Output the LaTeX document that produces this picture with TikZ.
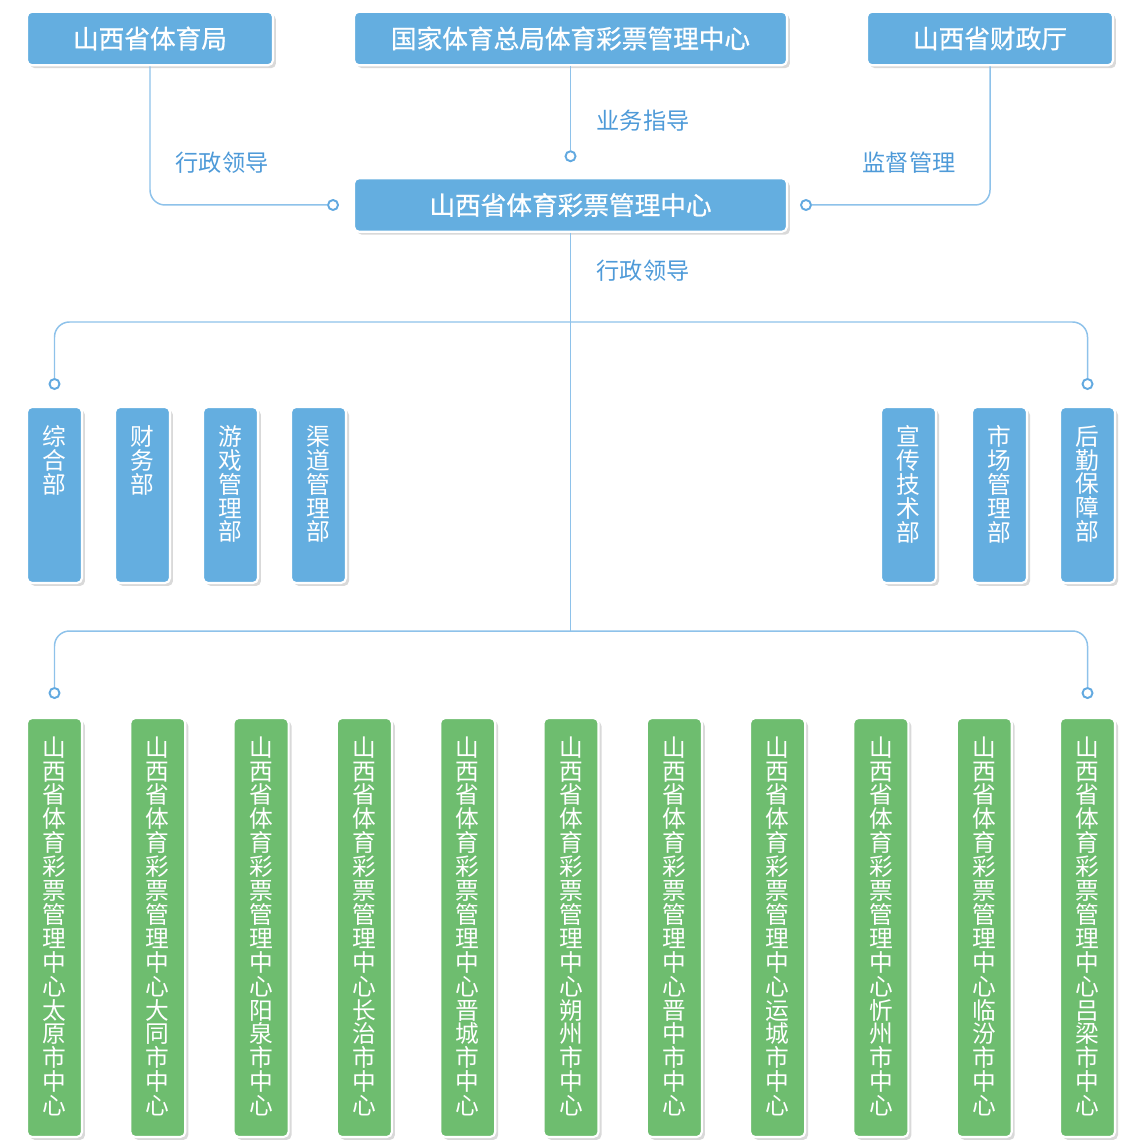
\documentclass[tikz,border=0pt]{standalone}
\usepackage{fontspec}
\setmainfont{Noto Sans CJK SC}
\newfontfamily\headfont[FakeBold=0.8]{Noto Sans CJK SC}
\usetikzlibrary{positioning}
\usetikzlibrary{shadows}
\definecolor{boxblue}{HTML}{64AEE0}
\definecolor{boxgreen}{HTML}{6EBD6F}
\definecolor{linkblue}{HTML}{8EC2EA}
\definecolor{hubblue}{HTML}{62A9E0}
\definecolor{noteblue}{HTML}{4E9AD8}
% stack the characters of #2 one under the other in a box #1 high
\newcommand\vchars[2]{\vbox to #1{\lineskiplimit=-\maxdimen\vskip 10.5pt\vcharsnext#2\relax\vfil}}
\def\vcharsnext#1{\ifx\relax#1\else\hbox to 1em{\hss#1\hss}\expandafter\vcharsnext\fi}
\newcommand\vcity[1]{\vchars{8.38cm}{山西省体育彩票管理中心#1市中心}}
\tikzset {
  % every box of the chart
  unit/.style = {
    draw = white,
    line width = 1.2pt,
    rounded corners = 0.1cm,
    text = white,
    inner sep = 0,
    drop shadow={shadow xshift=0.06cm,shadow yshift=-0.06cm,opacity=0.3}
  },
  % boxes with a line of text
  head/.style = {
    unit,
    fill = boxblue,
    minimum height = 1.07cm,
    font = \headfont\fontsize{14.6pt}{16pt}\selectfont
  },
  % departments
  dept/.style = {
    unit,
    fill = boxblue,
    minimum width = 1.1cm,
    font = \fontsize{13.5pt}{13.6pt}\selectfont
  },
  % city centres
  city/.style = {
    dept,
    fill = boxgreen
  }
}
\tikzset {
  link/.style = {
    draw = linkblue,
    line width = 0.85pt,
    rounded corners = 0.3cm
  },
  % small ring at the end of a link
  hub/.style = {
    circle,
    draw = hubblue,
    fill = white,
    line width = 1.1pt,
    minimum size = 0.2cm,
    inner sep = 0
  },
  note/.style = {
    text = noteblue,
    font = \fontsize{13.2pt}{15pt}\selectfont
  }
}
\begin{document}
\begin{tikzpicture}[x=0.02cm, y=-0.02cm]
    \useasboundingbox (0,0) rectangle (1126,1141);

    \node[head, minimum width = 4.92cm] (sport) at (150,38.5) {山西省体育局};
    \node[head, minimum width = 8.66cm] (nation) at (570.5,38.5) {国家体育总局体育彩票管理中心};
    \node[head, minimum width = 4.92cm] (finance) at (990,38.5) {山西省财政厅};

    \node[head, minimum width = 8.66cm] (center) at (570.5,205) {山西省体育彩票管理中心};

    \node[hub] (hub-sport) [left=0.28cm of center] {};
    \node[hub] (hub-nation) [above=0.3cm of center] {};
    \node[hub] (hub-finance) [right=0.24cm of center] {};

    \node[note] (note-sport) at (222,163) {行政领导};
    \node[note] (note-nation) at (643,121) {业务指导};
    \node[note] (note-finance) at (909,163) {监督管理};
    \node[note] (note-center) at (643,271) {行政领导};

    % departments
    \node[dept] (dept-1) at (54.5,495) {\vchars{3.52cm}{综合部}};
    \node[dept] (dept-2) at (142.5,495) {\vchars{3.52cm}{财务部}};
    \node[dept] (dept-3) at (230.5,495) {\vchars{3.52cm}{游戏管理部}};
    \node[dept] (dept-4) at (318.5,495) {\vchars{3.52cm}{渠道管理部}};
    \node[dept] (dept-5) at (908.5,495) {\vchars{3.52cm}{宣传技术部}};
    \node[dept] (dept-6) at (999.5,495) {\vchars{3.52cm}{市场管理部}};
    \node[dept] (dept-7) at (1087.5,495) {\vchars{3.52cm}{后勤保障部}};

    % city centres
    \foreach \name [count=\i] in {太原,大同,阳泉,长治,晋城,朔州,晋中,运城,忻州,临汾,吕梁}
      \node[city] (city-\i) at ({54.5+103.3*(\i-1)},927.5) {\expandafter\vcity\expandafter{\name}};

    \node[hub] (hub-dept-left) [above=0.32cm of dept-1] {};
    \node[hub] (hub-dept-right) [above=0.32cm of dept-7] {};
    \node[hub] (hub-city-left) [above=0.36cm of city-1] {};
    \node[hub] (hub-city-right) [above=0.36cm of city-11] {};

    \coordinate (split-dept) at (570.5,322);
    \coordinate (split-city) at (570.5,631);

    \draw [link] (sport) |- (hub-sport);
    \draw [link] (nation) -- (hub-nation);
    \draw [link] (finance) |- (hub-finance);

    \draw [link] (center) -- (split-city);

    \draw [link] (hub-dept-left) |- (split-dept) -| (hub-dept-right);
    \draw [link] (hub-city-left) |- (split-city) -| (hub-city-right);
\end{tikzpicture}
\end{document}
